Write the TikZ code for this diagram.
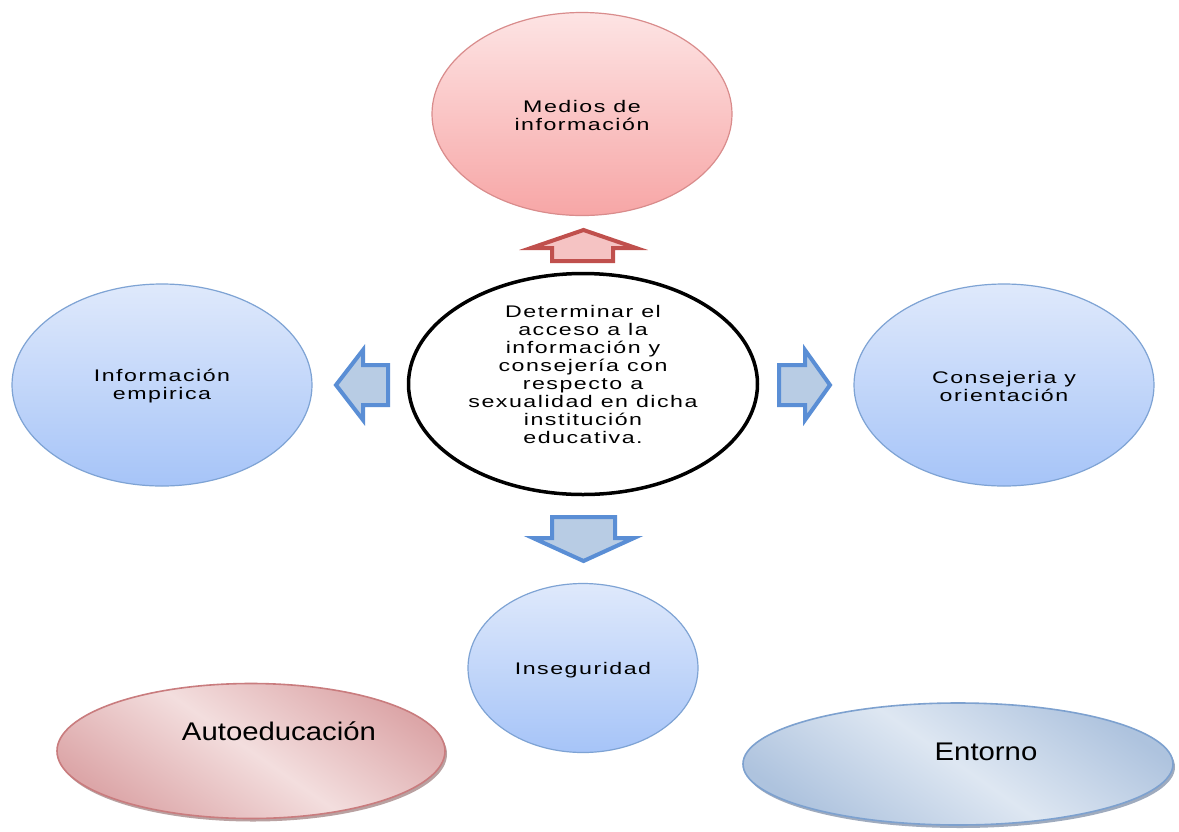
\documentclass[tikz,border=0pt]{standalone}
\usepackage{fontspec}
\setmainfont{Liberation Sans}
\newfontfamily\lblfont[LetterSpace=9,FakeStretch=1.38]{Liberation Sans}
\newfontfamily\bigfont[FakeStretch=1.15]{Liberation Sans}
\usetikzlibrary{shapes.geometric,shadows}

\definecolor{pinkTop}{HTML}{FDE4E4}
\definecolor{pinkBot}{HTML}{F7A6A6}
\definecolor{pinkLine}{HTML}{D98C8C}
\definecolor{blueTop}{HTML}{DFE9FB}
\definecolor{blueBot}{HTML}{A6C4F8}
\definecolor{blueLine}{HTML}{7EA3D4}
\definecolor{arrowBlueFill}{HTML}{B8CCE4}
\definecolor{arrowBlueLine}{HTML}{5A8ED5}
\definecolor{arrowRedFill}{HTML}{F5C3C3}
\definecolor{arrowRedLine}{HTML}{C0504D}
\definecolor{autoDark}{HTML}{DCA6A8}
\definecolor{autoLight}{HTML}{F3DEDE}
\definecolor{autoLine}{HTML}{C97C7E}
\definecolor{autoShadow}{HTML}{A88A8A}
\definecolor{entDark}{HTML}{AEC3DE}
\definecolor{entLight}{HTML}{DEE7F2}
\definecolor{entLine}{HTML}{7DA1CF}
\definecolor{entShadow}{HTML}{8796AE}

\tikzset{
  oval/.style={ellipse, inner sep=0pt, line width=1.2pt},
  redoval/.style={oval, draw=pinkLine, top color=pinkTop, bottom color=pinkBot},
  blueoval/.style={oval, draw=blueLine, top color=blueTop, bottom color=blueBot},
  lbl/.style={font=\lblfont\fontsize{16.8}{18}\selectfont, align=center, inner sep=0pt},
  biglbl/.style={font=\bigfont\fontsize{25.5}{30}\selectfont, inner sep=0pt, anchor=base},
  bluearrow/.style={draw=arrowBlueLine, fill=arrowBlueFill, line width=4pt, line join=miter},
  redarrow/.style={draw=arrowRedLine, fill=arrowRedFill, line width=4pt, line join=miter},
}

\begin{document}
\begin{tikzpicture}[x=1pt,y=-1pt]
  \useasboundingbox (0,0) rectangle (1179,831);
  \fill[white] (0,0) rectangle (1179,831);

  % main ovals
  \node[redoval, minimum width=300pt, minimum height=203pt] (medios) at (582,114) {};
  \node[oval, draw=black, line width=3.5pt, fill=white,
        minimum width=349pt, minimum height=221pt] (centro) at (583,384) {};
  \node[blueoval, minimum width=300pt, minimum height=202pt] (empirica) at (162,385) {};
  \node[blueoval, minimum width=300pt, minimum height=202pt] (consejo) at (1004,385) {};
  \node[blueoval, minimum width=230pt, minimum height=169pt] (insegur) at (583,668) {};

  % lower ovals with shadow
  \node[oval, draw=autoLine, line width=1.6pt,
        top color=autoDark, bottom color=autoDark, middle color=autoLight, shading angle=-35,
        drop shadow={shadow xshift=2pt, shadow yshift=-3pt, fill=autoShadow, opacity=0.8},
        minimum width=388pt, minimum height=135pt] (autoedu) at (251,751) {};
  \node[oval, draw=entLine, line width=1.6pt,
        top color=entDark, bottom color=entDark, middle color=entLight, shading angle=-35,
        drop shadow={shadow xshift=2pt, shadow yshift=-3pt, fill=entShadow, opacity=0.8},
        minimum width=430pt, minimum height=122pt] (entorno) at (958,764) {};

  % labels
  \node[lbl] (tmedios) at (582,115) {Medios de\\información};
  \node[lbl] (tcentro) at (583,374) {Determinar el\\acceso a la\\información y\\consejería con\\respecto a\\sexualidad en dicha\\institución\\educativa.};
  \node[lbl] (tempirica) at (162,386) {Información\\empirica};
  \node[lbl] (tconsejo) at (1004,386) {Consejeria y\\orientación};
  \node[lbl] (tinsegur) at (583,670) {Inseguridad};
  \node[biglbl] (tautoedu) at (279,740) {Autoeducación};
  \node[biglbl] (tentorno) at (986,760) {Entorno};

  % block arrows around the central oval
  \draw[redarrow] (552,261) -- (552,248) -- (531,248) -- (583.5,230)
                  -- (636,248) -- (613,248) -- (613,261) -- cycle;
  \draw[bluearrow] (552,517) -- (615,517) -- (615,538) -- (634,538)
                   -- (583.5,561) -- (533,538) -- (552,538) -- cycle;
  \draw[bluearrow] (779,365) -- (805,365) -- (805,350) -- (830,385)
                   -- (805,420) -- (805,405) -- (779,405) -- cycle;
  \draw[bluearrow] (388,365) -- (363,365) -- (363,350) -- (336,385)
                   -- (363,420) -- (363,405) -- (388,405) -- cycle;
\end{tikzpicture}
\end{document}
